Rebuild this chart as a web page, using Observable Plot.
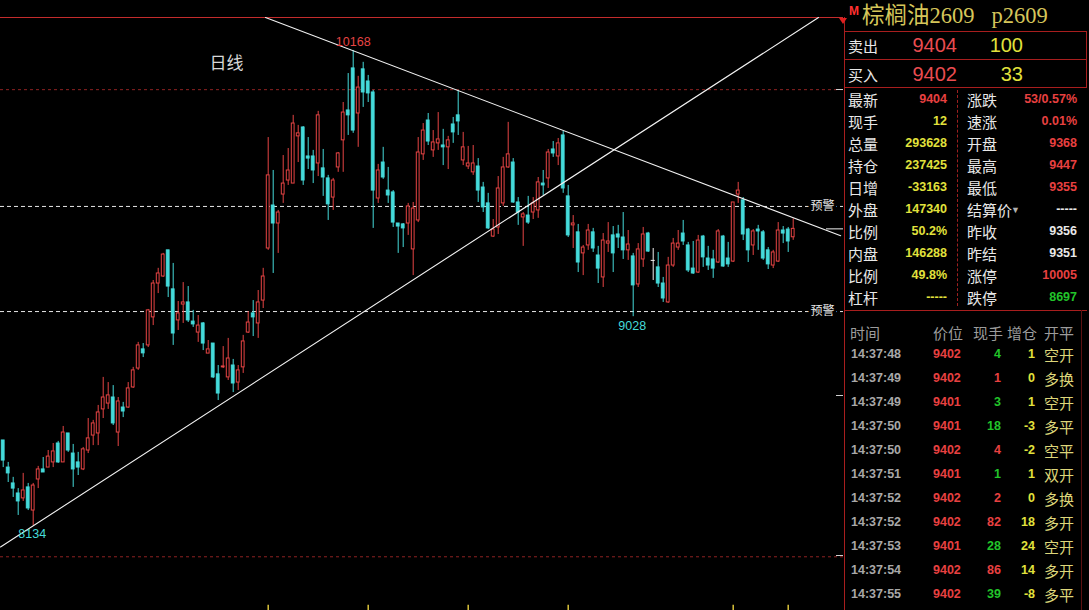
<!DOCTYPE html>
<html><head><meta charset="utf-8">
<script src="https://cdn.jsdelivr.net/npm/d3@7"></script>
<script src="https://cdn.jsdelivr.net/npm/@observablehq/plot@0.6"></script>
<style>
html,body{margin:0;padding:0;background:#000;}
#wrap{position:relative;width:1089px;height:610px;overflow:hidden;background:#000;}
#chart{position:absolute;left:0;top:0;}
.t{position:absolute;white-space:pre;line-height:1;}
.ln{position:absolute;}
</style></head>
<body><div id="wrap"><div id="chart"></div></div>
<script>
// ---------- data (palm oil p2609, daily) ----------
const openP = [8498,8382,8314,8271,8250,8297,8198,8331,8374,8382,8404,8485,8404,8528,8442,8404,8374,8455,8519,8528,8631,8656,8682,8532,8639,8639,8725,8806,8888,8905,9025,9170,9200,9312,9145,9012,9080,9089,9007,8960,8999,8870,8913,8781,8811,8768,8819,8746,8811,8960,9042,8999,9097,9320,9504,9427,9551,9611,9598,9800,9838,9714,9714,9684,9663,9620,9538,9667,9783,9911,10091,9898,10087,10035,9988,9534,9688,9568,9560,9427,9423,9427,9316,9440,9723,9868,9740,9770,9761,9753,9851,9890,9697,9671,9646,9671,9581,9513,9371,9410,9513,9667,9688,9517,9453,9461,9474,9483,9598,9620,9744,9714,9804,9543,9419,9389,9299,9333,9389,9290,9196,9341,9376,9380,9367,9312,9286,9166,9273,9384,9269,9239,9170,9089,9247,9324,9384,9333,9234,9217,9371,9277,9273,9260,9371,9277,9264,9551,9526,9401,9333,9401,9389,9312,9247,9264,9397,9401,9368];
const highP = [8498,8404,8340,8292,8357,8314,8314,8387,8425,8455,8485,8494,8558,8528,8481,8447,8468,8592,8584,8648,8768,8746,8733,8682,8661,8746,8811,8918,8913,9059,9183,9235,9299,9312,9256,9093,9174,9157,9055,9033,9003,8926,8913,8819,8900,8935,8845,8819,8948,9050,9097,9140,9235,9795,9654,9483,9718,9748,9890,9847,9842,9795,9740,9907,9744,9633,9620,9731,9945,10069,10168,10057,10117,10061,9997,9680,9753,9667,9568,9427,9427,9513,9517,9795,9855,9898,9825,9902,9830,9800,9881,9997,9817,9757,9761,9705,9603,9556,9444,9628,9710,9860,9705,9538,9474,9543,9538,9624,9654,9744,9778,9791,9821,9590,9461,9423,9333,9423,9406,9329,9384,9431,9414,9419,9474,9397,9299,9341,9410,9389,9320,9303,9196,9282,9363,9397,9440,9346,9350,9376,9376,9329,9312,9401,9376,9346,9517,9603,9538,9406,9401,9419,9397,9324,9312,9431,9414,9410,9447];
const lowP = [8382,8318,8254,8177,8237,8198,8134,8292,8361,8382,8382,8400,8404,8447,8297,8348,8369,8442,8476,8476,8592,8631,8562,8472,8596,8635,8721,8798,8853,8896,8990,9127,9196,9110,8905,8969,8999,9003,8982,8918,8883,8870,8763,8669,8806,8755,8703,8712,8785,8956,8943,8935,9063,9312,9213,9299,9513,9590,9598,9688,9590,9658,9598,9628,9543,9440,9483,9646,9646,9804,9813,9753,9924,9945,9406,9513,9616,9513,9410,9299,9324,9376,9204,9431,9697,9761,9710,9740,9675,9658,9770,9804,9675,9658,9633,9517,9474,9401,9367,9380,9500,9663,9513,9419,9329,9423,9444,9449,9547,9577,9710,9675,9556,9367,9320,9217,9204,9312,9303,9170,9153,9303,9217,9320,9273,9269,9028,9153,9239,9303,9183,9153,9089,9085,9239,9312,9333,9217,9209,9213,9239,9226,9192,9256,9239,9239,9260,9513,9354,9260,9290,9312,9269,9230,9234,9260,9341,9303,9355];
const closeP = [8412,8357,8292,8237,8284,8207,8305,8374,8361,8429,8451,8404,8532,8455,8374,8382,8460,8507,8571,8618,8682,8691,8571,8665,8622,8721,8798,8905,8871,9055,9170,9213,9294,9157,8956,9042,9089,9012,8995,8990,8913,8888,8768,8699,8815,8849,8742,8798,8922,9003,9025,9089,9200,9633,9427,9474,9598,9654,9855,9813,9611,9705,9654,9890,9624,9509,9611,9727,9902,9890,9825,10009,9988,9984,9568,9654,9624,9547,9431,9414,9406,9500,9491,9731,9825,9778,9774,9787,9753,9783,9817,9864,9753,9684,9684,9568,9496,9406,9401,9577,9667,9723,9517,9474,9466,9431,9513,9603,9590,9731,9727,9770,9577,9376,9427,9260,9324,9397,9320,9234,9354,9350,9299,9367,9312,9337,9162,9316,9380,9307,9269,9170,9106,9247,9341,9341,9350,9226,9213,9354,9282,9247,9234,9393,9243,9252,9517,9568,9380,9312,9393,9393,9277,9252,9303,9397,9384,9350,9404];

const gridLevels = [10000, 8000];
const alertLevels = [9500, 9050];
const highMarks = [{i: 70, p: 10168, label: "10168"}];
const lowMarks = [{i: 126, p: 9028, label: "9028"}, {i: 6, p: 8134, label: "8134"}];
const trendDown = [{i: 52.46, p: 10309}, {i: 167.5, p: 9375}];
const trendUp = [{i: -0.54, p: 8042}, {i: 163.06, p: 10309}];
const monthMarks = [53, 73, 93, 113, 146, 157];
const lastPrice = 9404;

const titleText = "棕榈油2609   p2609";
const askRow = ["卖出", "9404", "100"];
const bidRow = ["买入", "9402", "33"];
const leftLabels = ["最新","现手","总量","持仓","日增","外盘","比例","内盘","比例","杠杆"];
const leftValues = ["9404","12","293628","237425","-33163","147340","50.2%","146288","49.8%","-----"];
const leftColors = ["r","y","y","y","y","y","y","y","y","y"];
const rightLabels = ["涨跌","速涨","开盘","最高","最低","结算价","昨收","昨结","涨停","跌停"];
const rightValues = ["53/0.57%","0.01%","9368","9447","9355","-----","9356","9351","10005","8697"];
const rightColors = ["r","r","r","r","r","w","w","w","r","g"];
const tradeHeader = ["时间","价位","现手","增仓","开平"];
const tradeTimes = ["14:37:48","14:37:49","14:37:49","14:37:50","14:37:50","14:37:51","14:37:52","14:37:52","14:37:53","14:37:54","14:37:55"];
const tradePrices = ["9402","9402","9401","9401","9402","9401","9402","9402","9401","9402","9402"];
const tradeVols = [4,1,3,18,4,1,2,82,28,86,39];
const tradeVolColors = ["g","r","g","g","r","g","r","r","g","r","g"];
const tradeOI = [1,0,1,-3,-2,1,0,18,24,14,-8];
const tradeTypes = ["空开","多换","空开","多平","空平","双开","多换","多开","空开","多开","多平"];

// ---------- styles ----------
const RED = "#e64444", CYAN = "#45dada", DOJI = "#f0f0f0";
const C = {r: "#e84040", y: "#e2e23c", w: "#e8e8e8", g: "#22c42a"};
const NUM = '"Liberation Sans", Arial, sans-serif';
const CJK = '"Noto Sans CJK SC", "Noto Sans", sans-serif';

const candles = openP.map((o, i) => ({i, open: o, high: highP[i], low: lowP[i], close: closeP[i]}));
const col = d => d.close > d.open ? RED : d.close < d.open ? CYAN : DOJI;

const chart = Plot.plot({
  width: 843, height: 610,
  marginTop: 17, marginBottom: 0, marginLeft: 0, marginRight: 0,
  x: {type: "linear", domain: [-0.54, 168.06], axis: null},
  y: {domain: [7770, 10309], axis: null},
  style: {background: "#000", color: "#fff", overflow: "visible"},
  marks: [
    Plot.ruleY([10309], {stroke: "#c42c2c", strokeWidth: 1.2}),
    Plot.ruleY(gridLevels, {stroke: "#8e2222", strokeDasharray: "3,3"}),
    Plot.ruleY(alertLevels, {stroke: "#e6e6e6", strokeDasharray: "4,3"}),
    Plot.ruleX(candles, {x: "i", y1: "low", y2: "high", stroke: col, strokeWidth: 1}),
    Plot.rect(candles.filter(d => d.close !== d.open), {
      x1: d => d.i - 0.28, x2: d => d.i + 0.28, y1: "open", y2: "close",
      fill: d => d.close > d.open ? "#000" : CYAN, stroke: col, strokeWidth: 1
    }),
    Plot.ruleY(candles.filter(d => d.close === d.open), {y: "open", x1: d => d.i - 0.4, x2: d => d.i + 0.4, stroke: DOJI}),
    Plot.line(trendDown, {x: "i", y: "p", stroke: "#f2f2f2", strokeWidth: 1.1}),
    Plot.line(trendUp, {x: "i", y: "p", stroke: "#f2f2f2", strokeWidth: 1.1}),
    Plot.text(highMarks, {x: "i", y: "p", text: "label", dy: -8, fill: RED, fontSize: 12.5, fontFamily: NUM}),
    Plot.text(lowMarks, {x: "i", y: "p", text: "label", dy: 9, dx: -1, fill: CYAN, fontSize: 12.5, fontFamily: NUM}),
    Plot.text(alertLevels, {y: d => d, frameAnchor: "right", dx: -9, textAnchor: "end", text: () => "预警",
      fill: "#e8e8e8", stroke: "#000", strokeWidth: 6, paintOrder: "stroke", fontSize: 12, fontFamily: CJK}),
    Plot.text(["日线"], {frameAnchor: "top-left", dx: 226, dy: 39, text: d => d, textAnchor: "middle",
      fill: "#d8d8d8", fontSize: 17, fontFamily: CJK}),
    Plot.ruleY([lastPrice], {x1: 164.66, x2: 168.06, stroke: "#f0f0f0"}),
    Plot.ruleX(monthMarks, {x: d => d, y1: 7770, y2: 7792, stroke: "#d8c23a", strokeWidth: 1.5})
  ]
});
document.getElementById("chart").appendChild(chart);

// ---------- quote panel ----------
const wrap = document.getElementById("wrap");
function txt(s, x, y, o = {}) {
  const d = document.createElement("div");
  d.className = "t";
  d.textContent = s;
  d.style.left = x + "px"; d.style.top = y + "px";
  d.style.fontSize = (o.size || 13) + "px";
  d.style.color = o.color || "#e8e8e8";
  d.style.fontWeight = o.weight || "normal";
  d.style.fontFamily = o.family || NUM;
  d.style.transform = o.align === "right" ? "translate(-100%,-50%)" : o.align === "center" ? "translate(-50%,-50%)" : "translate(0,-50%)";
  wrap.appendChild(d);
  return d;
}
function line(x, y, w, h, color, dashed) {
  const d = document.createElement("div");
  d.className = "ln";
  d.style.left = x + "px"; d.style.top = y + "px";
  d.style.width = w + "px"; d.style.height = h + "px";
  if (dashed) { d.style.borderLeft = "1px dashed " + color; d.style.width = "0px"; }
  else d.style.background = color;
  wrap.appendChild(d);
}
const BR = "#a81e1e";
line(844, 17, 1, 593, BR);
line(844, 31, 243, 1, BR);
line(844, 59, 243, 1, BR);
line(844, 87, 243, 1, BR);
line(844, 310, 243, 1, BR);
line(1086, 31, 1, 57, BR);
line(1081, 310, 1, 300, "#5a1010");
line(957, 90, 1, 216, "#a02020", true);
[89, 395, 555].forEach(y => line(836, y, 7, 1, "#d0d0d0"));
const tri = document.createElement("div");
tri.style.cssText = "position:absolute;left:839px;top:18px;width:0;height:0;border-left:4px solid transparent;border-right:4px solid transparent;border-top:6px solid #e02020;";
wrap.appendChild(tri);

txt("M", 849, 11, {size: 12, color: "#ff3030", weight: "bold"});
txt(titleText, 862, 16, {size: 22.5, color: "#d6c65a", family: '"Liberation Serif", "Noto Sans CJK SC", serif'});

txt(askRow[0], 848, 45, {size: 15, family: CJK});
txt(askRow[1], 957, 45, {size: 20, color: "#ea4c50", align: "right"});
txt(askRow[2], 1023, 45, {size: 20, color: "#e2e23c", align: "right"});
txt(bidRow[0], 848, 74, {size: 15, family: CJK});
txt(bidRow[1], 957, 74, {size: 20, color: "#ea4c50", align: "right"});
txt(bidRow[2], 1023, 74, {size: 20, color: "#e2e23c", align: "right"});

leftLabels.forEach((s, k) => {
  const y = 99 + 22 * k;
  txt(s, 848, y, {size: 15, family: CJK});
  txt(leftValues[k], 947, y, {size: 12.5, weight: "bold", color: C[leftColors[k]], align: "right"});
  txt(rightLabels[k], 967, y, {size: 15, family: CJK});
  txt(rightValues[k], 1077, y, {size: 12.5, weight: "bold", color: C[rightColors[k]], align: "right"});
});
txt("▼", 1011, 210, {size: 9, color: "#b0b0b0"});

const hdrX = [850, 933, 973, 1007, 1044];
tradeHeader.forEach((s, k) => txt(s, hdrX[k], 332, {size: 15, color: "#9c9c9c", family: CJK}));
tradeTimes.forEach((t, k) => {
  const y = 354 + 24 * k;
  txt(t, 851, y, {size: 12.5, weight: "bold", color: "#a8a8a8"});
  txt(tradePrices[k], 933, y, {size: 12.5, weight: "bold", color: C.r});
  txt(String(tradeVols[k]), 1001, y, {size: 12.5, weight: "bold", color: C[tradeVolColors[k]], align: "right"});
  txt(String(tradeOI[k]), 1035, y, {size: 12.5, weight: "bold", color: C.y, align: "right"});
  txt(tradeTypes[k], 1044, y, {size: 15, color: "#ddd67a", family: CJK});
});
</script>
</body></html>
